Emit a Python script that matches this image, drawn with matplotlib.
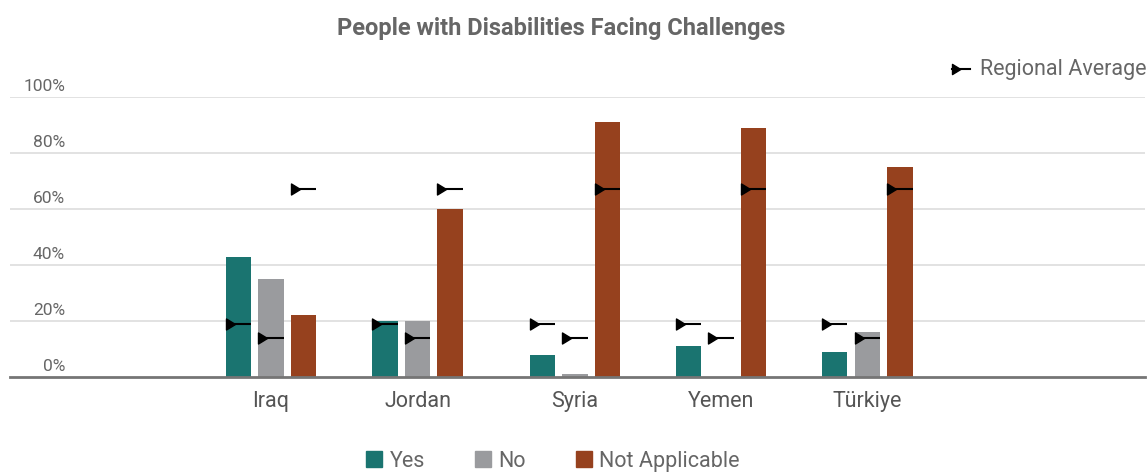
import numpy as np
import matplotlib.pyplot as plt
from matplotlib.patches import Patch
from matplotlib.lines import Line2D
from matplotlib.path import Path

plt.rcParams['font.family'] = ['Roboto', 'DejaVu Sans']

countries = ['Iraq', 'Jordan', 'Syria', 'Yemen', 'Türkiye']
series = ['Yes', 'No', 'Not Applicable']
yes = [43, 20, 8, 11, 9]
no = [35, 20, 1, 0, 16]
not_applicable = [22, 60, 91, 89, 75]
# regional average per answer
regional_avg = [19, 14, 67]
colors = ['#1a7470', '#9a9b9e', '#96411e']

text_grey = '#666666'
fig = plt.figure(figsize=(11.48, 4.73), dpi=100)
ax = fig.add_axes([10 / 1148, 1 - 377 / 473, 1135 / 1148, 280 / 473])

# group centres (Syria's slot sits a little wider)
x = np.array([0, 1, 2.075, 3.07, 4.07])
width = 0.174
step = 0.222

# arrowhead whose left edge sits at the data point
tri = Path([(0, -0.55), (0.9, 0), (0, 0.55), (0, -0.55)],
           [Path.MOVETO, Path.LINETO, Path.LINETO, Path.CLOSEPOLY])

for i, vals in enumerate([yes, no, not_applicable]):
    pos = x + (i - 1) * step
    ax.bar(pos, vals, width, color=colors[i], zorder=2)
    left = pos - width / 2
    ax.hlines([regional_avg[i]] * len(pos), left, left + width,
              color='black', lw=1.5, zorder=3)
    ax.plot(left, [regional_avg[i]] * len(pos), ls='none', marker=tri,
            ms=13, color='black', zorder=4)

ax.set_xlim(-1.782, 5.966)
ax.set_ylim(0, 100)

for v in range(20, 101, 20):
    ax.axhline(v, color='#dddddd', lw=1.2, zorder=1)
for v in range(0, 101, 20):
    ax.text(55 / 1135, v + 1.2, f'{v}%', transform=ax.get_yaxis_transform(),
            ha='right', va='bottom', fontsize=12.5, color=text_grey)

for s in ['top', 'right', 'left']:
    ax.spines[s].set_visible(False)
ax.spines['bottom'].set_color('#757575')
ax.spines['bottom'].set_linewidth(2)
ax.spines['bottom'].set_zorder(5)
ax.set_yticks([])
ax.set_xticks(x)
ax.set_xticklabels(countries, fontsize=15.5, color='#555555')
ax.tick_params(axis='x', length=0, pad=10)

fig.text(561 / 1148, 1 - 28 / 473, 'People with Disabilities Facing Challenges',
         ha='center', va='center', fontsize=17, fontweight='bold', color=text_grey)

# regional average key, top right
ky = 1 - 69 / 473
fig.add_artist(Line2D([952 / 1148, 970 / 1148], [ky, ky], color='black', lw=1.5))
fig.add_artist(Line2D([952 / 1148], [ky], marker=tri, ms=12, color='black', ls='none'))
fig.text(980 / 1148, ky, 'Regional Average', ha='left', va='center',
         fontsize=15.5, color=text_grey)

handles = [Patch(color=c, label=s) for c, s in zip(colors, series)]
fig.legend(handles=handles, loc='center', ncol=3, frameon=False,
           bbox_to_anchor=(553 / 1148, 1 - 461 / 473), fontsize=15.5,
           handlelength=0.75, handleheight=0.75, handletextpad=0.35,
           columnspacing=2.3, labelcolor=text_grey)

fig.savefig('out.png', dpi=100)
